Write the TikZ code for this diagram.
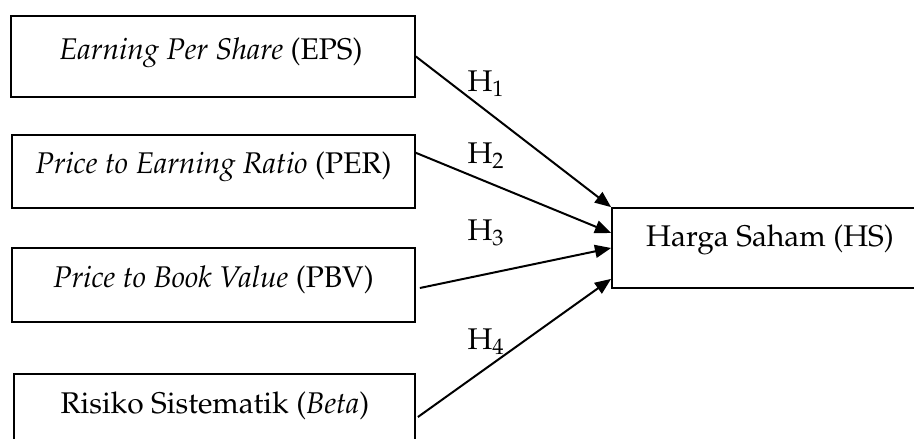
\documentclass[tikz,border=0pt]{standalone}
\usepackage[T1]{fontenc}
\usepackage{mathpazo}
\usepackage{tikz}
\usetikzlibrary{arrows.meta,calc}

\newcommand{\pxu}{0.0141cm}
\tikzset{
  varbox/.style={draw, black, line width=0.7pt, inner sep=0pt},
  hyparrow/.style={-{Triangle[length=6.5pt,width=5.2pt]}, line width=0.8pt},
  boxtext/.style={anchor=base, inner sep=0pt, font=\fontsize{12}{14}\selectfont},
  hyptext/.style={anchor=base west, inner sep=0pt, font=\fontsize{12}{14}\selectfont}
}

\begin{document}
\begin{tikzpicture}[x=\pxu, y=-\pxu]
  \useasboundingbox (0,0) rectangle (914,438);

  % boxes
  \node[varbox, minimum width=404*\pxu, minimum height=81*\pxu] (eps) at (213,56.5) {};
  \node[varbox, minimum width=403*\pxu, minimum height=73*\pxu] (per) at (213.5,171.5) {};
  \node[varbox, minimum width=403*\pxu, minimum height=74*\pxu] (pbv) at (213.5,285) {};
  \node[varbox, minimum width=401*\pxu, minimum height=66*\pxu] (beta) at (214.5,407) {};
  \node[varbox, minimum width=316*\pxu, minimum height=80*\pxu] (hs) at (770,248) {};

  % label
  \node[boxtext] (epsText) at (211,59) {\textit{Earning Per Share} (EPS)};
  \node[boxtext] (perText) at (213.5,173) {\textit{Price to Earning Ratio} (PER)};
  \node[boxtext] (pbvText) at (213.5,287) {\textit{Price to Book Value} (PBV)};
  \node[boxtext] (betaText) at (215,413) {Risiko Sistematik (\textit{Beta})};
  \node[boxtext] (hsText) at (770,246) {Harga Saham (HS)};

  % arrows
  \draw[hyparrow] (eps.east) -- (hs.north west);
  \draw[hyparrow] ($(per.north east)!0.25!(per.south east)$) -- ($(hs.west)+(0,-15)$);
  \draw[hyparrow] ($(pbv.east)+(4,3)$) -- (hs.west);
  \draw[hyparrow] ($(beta.east)+(2,10)$) -- ($(hs.south west)+(0,-10)$);

  % H
  \node[hyptext] (h1) at (467,91) {H$_1$};
  \node[hyptext] (h2) at (467,163) {H$_2$};
  \node[hyptext] (h3) at (467,240) {H$_3$};
  \node[hyptext] (h4) at (467,349) {H$_4$};
\end{tikzpicture}
\end{document}
